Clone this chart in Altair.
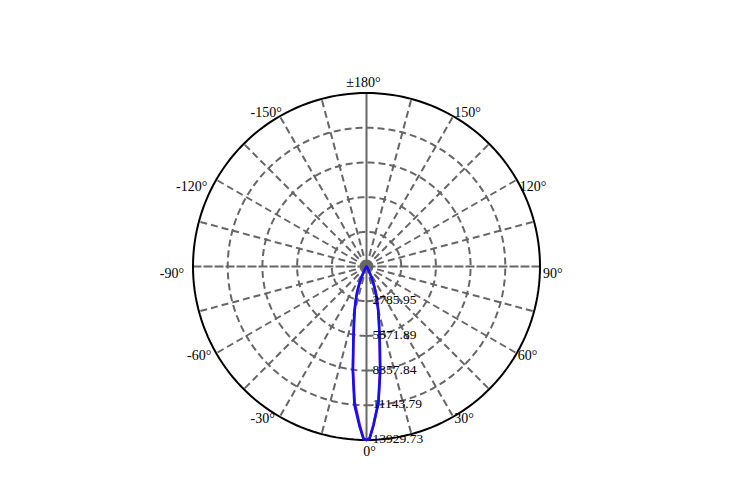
import altair as alt
import pandas as pd
import numpy as np

R = 13929.73
PX = 173.5  # outer radius in pixels

ring_values = [2785.95, 5571.89, 8357.84, 11143.79, 13929.73]
ring_labels = ["2785.95", "5571.89", "8357.84", "11143.79", "13929.73"]

angle_ticks = [0, 30, 60, 90, 120, 150, 180, -150, -120, -90, -60, -30]
angle_labels = ["0°", "30°", "60°", "90°", "120°", "150°", "±180°",
                "-150°", "-120°", "-90°", "-60°", "-30°"]

gamma = [-90, -80, -70, -60, -50, -45, -40, -35, -30, -27.5, -25, -22.5, -20,
         -17.5, -15, -12.5, -10, -7.5, -5, -2.5, -1, 0, 1, 2.5, 5, 7.5, 10, 12.5,
         15, 17.5, 20, 22.5, 25, 27.5, 30, 35, 40, 45, 50, 60, 70, 80, 90]

c0 = [0, 1, 3, 5, 10, 20, 40, 100, 280, 520, 950, 1550, 2250,
      2950, 3750, 4700, 6100, 8450, 11150, 12850, 13850, 13930, 13850, 12800, 11000, 8500, 6150, 4650,
      3600, 2750, 2050, 1400, 850, 470, 250, 90, 35, 18, 9, 5, 3, 1, 0]

c90 = [0, 1, 2, 4, 9, 19, 38, 95, 260, 490, 900, 1480, 2150,
       2850, 3650, 4600, 6000, 8300, 10900, 12700, 13800, 13930, 13800, 12700, 10900, 8300, 6000, 4600,
       3650, 2850, 2150, 1480, 900, 490, 260, 95, 38, 19, 9, 4, 2, 1, 0]

GRID = "#666666"
FONT = "Liberation Serif"

xs = alt.Scale(domain=[-R, R], nice=False, zero=False)
ys = alt.Scale(domain=[-R, R], nice=False, zero=False)


def xy_enc(**kw):
    return dict(x=alt.X("x:Q", scale=xs, axis=None),
                y=alt.Y("y:Q", scale=ys, axis=None), **kw)


polar_x = "datum.r*sin(datum.a*PI/180)"
polar_y = "-datum.r*cos(datum.a*PI/180)"

# rings
ring_angles = np.arange(0, 361, 2)
ring_df = pd.DataFrame([(v, a, i) for v in ring_values for i, a in enumerate(ring_angles)],
                       columns=["r", "a", "idx"])
rings_base = alt.Chart(ring_df).transform_calculate(x=polar_x, y=polar_y)
inner_rings = rings_base.transform_filter(f"datum.r < {R - 1}").mark_line(
    color=GRID, strokeWidth=2, strokeDash=[7, 4]).encode(**xy_enc(detail="r:Q", order="idx:Q"))
outer_ring = rings_base.transform_filter(f"datum.r >= {R - 1}").mark_line(
    color="black", strokeWidth=2).encode(**xy_enc(order="idx:Q"))

# spokes
spoke_df = pd.DataFrame([(a, r, j) for a in range(0, 360, 15) for j, r in enumerate([0, R])],
                        columns=["a", "r", "idx"])
spokes_base = alt.Chart(spoke_df).transform_calculate(x=polar_x, y=polar_y)
spokes = spokes_base.transform_filter("datum.a % 90 != 0").mark_line(
    color=GRID, strokeWidth=2, strokeDash=[7, 4]).encode(**xy_enc(detail="a:Q", order="idx:Q"))
vert = spokes_base.transform_filter("datum.a == 0 || datum.a == 180").mark_line(
    color=GRID, strokeWidth=2).encode(**xy_enc(detail="a:Q", order="idx:Q"))
horiz = spokes_base.transform_filter("datum.a == 90 || datum.a == 270").mark_line(
    color=GRID, strokeWidth=2, strokeDash=[9, 2]).encode(**xy_enc(detail="a:Q", order="idx:Q"))

# curves
curve_df = pd.DataFrame({"a": gamma * 2, "r": c0 + c90,
                         "series": ["C0"] * len(gamma) + ["C90"] * len(gamma),
                         "idx": list(range(len(gamma))) * 2})
curve_base = alt.Chart(curve_df).transform_calculate(x=polar_x, y=polar_y)
curve90 = curve_base.transform_filter("datum.series == 'C90'").mark_line(
    color="#8a10d0", strokeWidth=2.5).encode(**xy_enc(order="idx:Q"))
curve0 = curve_base.transform_filter("datum.series == 'C0'").mark_line(
    color="#1010f0", strokeWidth=2.5).encode(**xy_enc(order="idx:Q"))

# ring labels
rl_df = pd.DataFrame({"r": ring_values, "label": ring_labels, "a": [0] * len(ring_values)})
ring_text = alt.Chart(rl_df).transform_calculate(x=polar_x, y=polar_y).mark_text(
    align="left", baseline="middle", dx=6, dy=-1, font=FONT, fontSize=13.5, color="black"
).encode(**xy_enc(text="label:N"))

# angle labels
al_df = pd.DataFrame({"a": angle_ticks, "label": angle_labels, "r": [R] * len(angle_ticks)})


def angle_layer(sel, align, dx, dy):
    return alt.Chart(al_df).transform_filter(
        alt.FieldOneOfPredicate(field="a", oneOf=sel)
    ).transform_calculate(x=polar_x, y=polar_y).mark_text(
        align=align, baseline="middle", dx=dx, dy=dy, font=FONT, fontSize=14, color="black"
    ).encode(**xy_enc(text="label:N"))


labels = [
    angle_layer([90, 120], "left", 3, 7),
    angle_layer([30, 60], "left", 1, 2.5),
    angle_layer([150], "left", 1, -3),
    angle_layer([-90, -120], "right", -9, 7),
    angle_layer([-30, -60], "right", -5, 2.5),
    angle_layer([-150], "right", 2, -3),
    angle_layer([0], "center", 3, 12),
    angle_layer([180], "center", -3, -10),
]

chart = alt.layer(inner_rings, spokes, horiz, vert, outer_ring, curve90, curve0,
                  ring_text, *labels).properties(
    width=2 * PX, height=2 * PX,
    autosize=alt.AutoSizeParams(type="none"),
    padding={"left": 185, "top": 85, "right": 190, "bottom": 20},
    background="white",
).configure_view(strokeWidth=0)

chart.save("out.html", embed_options={"renderer": "svg", "actions": False})
